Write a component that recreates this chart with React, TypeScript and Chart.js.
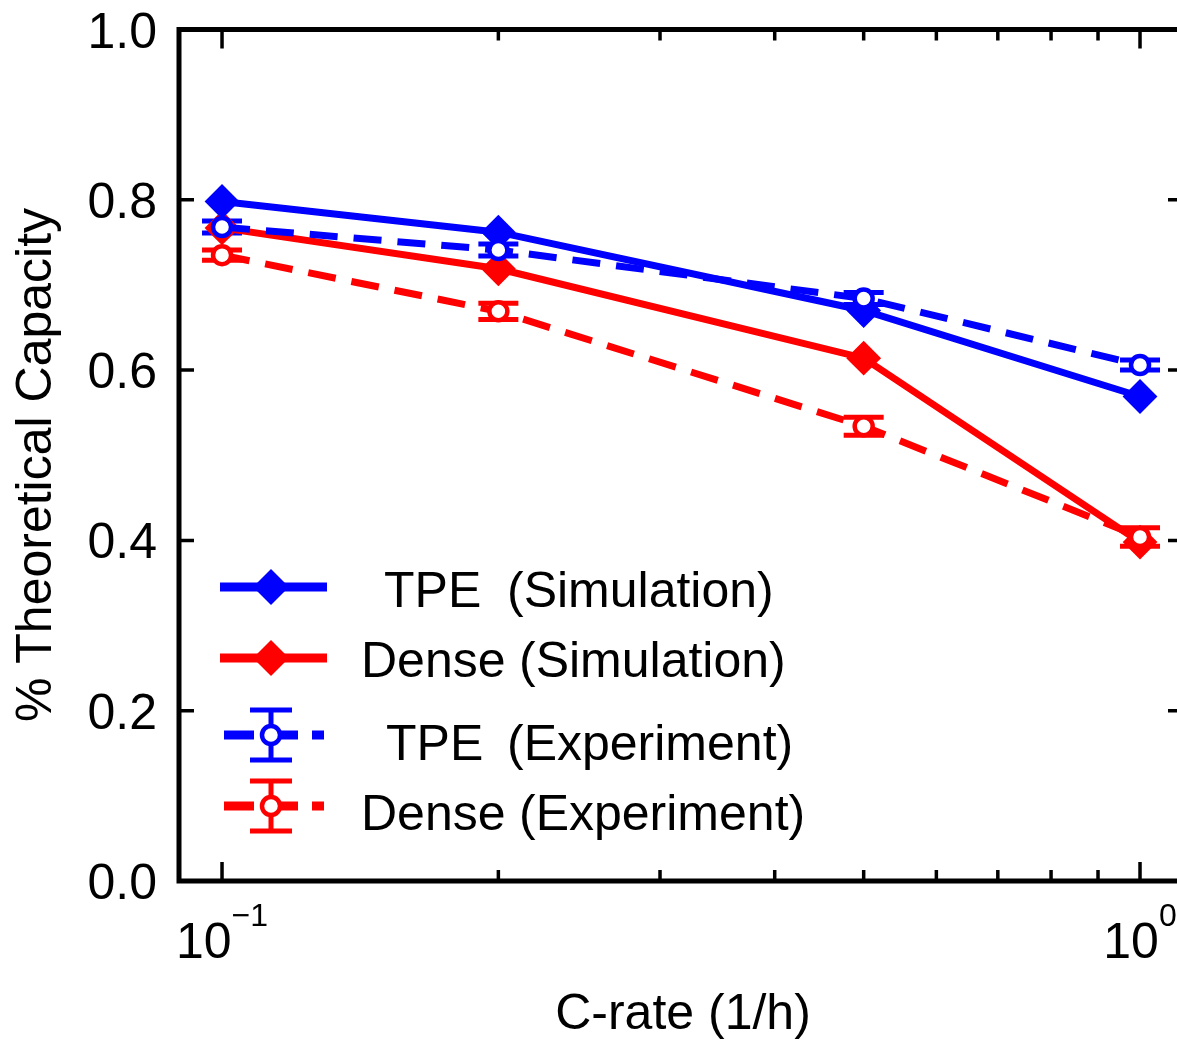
import React, { useEffect, useRef } from "react";
import { Chart, registerables } from "chart.js";

Chart.register(...registerables);

// ---- data ----
const cRate = [0.1, 0.2, 0.5, 1.0];
const tpeSim = [0.798, 0.762, 0.67, 0.569];
const denseSim = [0.767, 0.719, 0.614, 0.398];
const tpeExp = [0.768, 0.741, 0.684, 0.606];
const tpeExpErr = [0.007, 0.007, 0.007, 0.006];
const denseExp = [0.735, 0.669, 0.534, 0.404];
const denseExpErr = [0.006, 0.0095, 0.0105, 0.011];

const seriesNames = ["TPE", "Dense", "TPE", "Dense"];
const seriesKinds = ["(Simulation)", "(Simulation)", "(Experiment)", "(Experiment)"];

const yTicks = [0, 0.2, 0.4, 0.6, 0.8, 1.0];
const yTickLabels = ["0.0", "0.2", "0.4", "0.6", "0.8", "1.0"];
const xMajorTicks = [0.1, 1];
const xMajorBase = ["10", "10"];
const xMajorExp = ["\u22121", "0"];
const xMinorTicks = [0.2, 0.3, 0.4, 0.5, 0.6, 0.7, 0.8, 0.9];

const xTitle = "C-rate (1/h)";
const yTitle = "% Theoretical Capacity";

const BLUE = "#0000ff";
const RED = "#ff0000";
const FONT = '"Liberation Sans", Arial, Helvetica, sans-serif';

function pts(ys: number[]) {
  return cRate.map((x, i) => ({ x, y: ys[i] }));
}

function diamond(ctx: CanvasRenderingContext2D, x: number, y: number, r: number, color: string) {
  ctx.beginPath();
  ctx.moveTo(x - r, y);
  ctx.lineTo(x, y - r);
  ctx.lineTo(x + r, y);
  ctx.lineTo(x, y + r);
  ctx.closePath();
  ctx.fillStyle = color;
  ctx.fill();
}

function errBar(ctx: CanvasRenderingContext2D, x: number, y1: number, y2: number, capHalf: number, lw: number, color: string) {
  ctx.strokeStyle = color;
  ctx.lineWidth = lw;
  ctx.setLineDash([]);
  ctx.beginPath();
  ctx.moveTo(x, y1);
  ctx.lineTo(x, y2);
  ctx.moveTo(x - capHalf, y1);
  ctx.lineTo(x + capHalf, y1);
  ctx.moveTo(x - capHalf, y2);
  ctx.lineTo(x + capHalf, y2);
  ctx.stroke();
}

export default function App() {
  const ref = useRef<HTMLCanvasElement>(null);

  useEffect(() => {
    document.body.style.margin = "0";
    const canvas = ref.current!;

    const framePlugin = {
      id: "frame",
      beforeDatasetsDraw(chart: any) {
        const ctx = chart.ctx as CanvasRenderingContext2D;
        const xs = chart.scales.x;
        const ys = chart.scales.y;
        ctx.save();
        const sets = [
          { v: tpeExp, e: tpeExpErr, c: BLUE },
          { v: denseExp, e: denseExpErr, c: RED },
        ];
        for (const s of sets) {
          cRate.forEach((cx, i) => {
            const px = xs.getPixelForValue(cx);
            errBar(ctx, px, ys.getPixelForValue(s.v[i] + s.e[i]), ys.getPixelForValue(s.v[i] - s.e[i]), 20, 5, s.c);
          });
        }
        ctx.restore();
      },
      afterDraw(chart: any) {
        const ctx = chart.ctx as CanvasRenderingContext2D;
        const { left, right, top, bottom } = chart.chartArea;
        const xs = chart.scales.x;
        const ys = chart.scales.y;
        ctx.save();
        ctx.setLineDash([]);
        ctx.strokeStyle = "#000";
        ctx.fillStyle = "#000";

        // spines
        ctx.lineWidth = 5;
        ctx.lineCap = "square";
        ctx.lineJoin = "miter";
        ctx.beginPath();
        ctx.moveTo(left, bottom);
        ctx.lineTo(left, top);
        ctx.lineTo(right + 20, top);
        ctx.moveTo(left, bottom);
        ctx.lineTo(right + 20, bottom);
        ctx.stroke();

        // ticks
        ctx.lineCap = "butt";
        ctx.lineWidth = 3.5;
        ctx.beginPath();
        for (const v of yTicks) {
          const y = ys.getPixelForValue(v);
          ctx.moveTo(left, y);
          ctx.lineTo(left + 15, y);
          ctx.moveTo(right - 9, y);
          ctx.lineTo(right, y);
        }
        for (const v of xMajorTicks) {
          const x = xs.getPixelForValue(v);
          ctx.moveTo(x, bottom);
          ctx.lineTo(x, bottom - 19);
          ctx.moveTo(x, top);
          ctx.lineTo(x, top + 19);
        }
        for (const v of xMinorTicks) {
          const x = xs.getPixelForValue(v);
          ctx.moveTo(x, bottom);
          ctx.lineTo(x, bottom - 11);
          ctx.moveTo(x, top);
          ctx.lineTo(x, top + 11);
        }
        ctx.stroke();

        // y tick labels
        ctx.font = `50px ${FONT}`;
        ctx.textAlign = "right";
        ctx.textBaseline = "alphabetic";
        yTicks.forEach((v, i) => {
          const y = ys.getPixelForValue(v);
          ctx.fillText(yTickLabels[i], 157, y + 18);
        });

        // x tick labels (10^n)
        ctx.textAlign = "left";
        xMajorTicks.forEach((v, i) => {
          const x = xs.getPixelForValue(v);
          ctx.font = `50px ${FONT}`;
          const wb = ctx.measureText(xMajorBase[i]).width;
          ctx.font = `32px ${FONT}`;
          const we = ctx.measureText(xMajorExp[i]).width;
          const x0 = x - (wb + we) / 2;
          ctx.font = `50px ${FONT}`;
          ctx.fillText(xMajorBase[i], x0, 958);
          ctx.font = `32px ${FONT}`;
          ctx.fillText(xMajorExp[i], x0 + wb, 926);
        });

        // axis titles
        ctx.font = `50px ${FONT}`;
        ctx.textAlign = "center";
        ctx.fillText(xTitle, 683, 1029);
        ctx.save();
        ctx.translate(51, 465);
        ctx.rotate(-Math.PI / 2);
        ctx.fillText(yTitle, 0, 0);
        ctx.restore();

        // legend
        const colors = [BLUE, RED, BLUE, RED];
        const rowY = [587, 658, 735, 806];
        const textY = [607, 677, 760, 830];
        const nameX = [384, 361, 386, 361];
        const kindX = [507, 519, 507, 519];
        const mx = 271;
        for (let i = 0; i < 4; i++) {
          const c = colors[i];
          const y = rowY[i];
          ctx.strokeStyle = c;
          ctx.lineWidth = 9;
          ctx.lineCap = "butt";
          if (i < 2) {
            ctx.setLineDash([]);
            ctx.beginPath();
            ctx.moveTo(220, y);
            ctx.lineTo(327, y);
            ctx.stroke();
            diamond(ctx, mx, y, 18, c);
          } else {
            ctx.setLineDash([30, 14]);
            ctx.beginPath();
            ctx.moveTo(224, y);
            ctx.lineTo(324, y);
            ctx.stroke();
            ctx.setLineDash([]);
            errBar(ctx, mx, y - 25, y + 25, 21, 5, c);
            ctx.beginPath();
            ctx.arc(mx, y, 9, 0, Math.PI * 2);
            ctx.fillStyle = "#fff";
            ctx.fill();
            ctx.lineWidth = 4.5;
            ctx.strokeStyle = c;
            ctx.stroke();
          }
          ctx.fillStyle = "#000";
          ctx.font = `50px ${FONT}`;
          ctx.textAlign = "left";
          ctx.fillText(seriesNames[i], nameX[i], textY[i]);
          ctx.fillText(seriesKinds[i], kindX[i], textY[i]);
        }
        ctx.restore();
      },
    };

    const chart = new Chart(canvas, {
      type: "line",
      data: {
        datasets: [
          {
            label: `${seriesNames[0]} ${seriesKinds[0]}`,
            data: pts(tpeSim),
            borderColor: BLUE,
            backgroundColor: BLUE,
            borderWidth: 7,
            pointStyle: "rectRot",
            pointRadius: 16,
            pointBorderWidth: 2,
            pointBackgroundColor: BLUE,
            pointBorderColor: BLUE,
            order: 3,
          },
          {
            label: `${seriesNames[1]} ${seriesKinds[1]}`,
            data: pts(denseSim),
            borderColor: RED,
            backgroundColor: RED,
            borderWidth: 7,
            pointStyle: "rectRot",
            pointRadius: 16,
            pointBorderWidth: 2,
            pointBackgroundColor: RED,
            pointBorderColor: RED,
            order: 4,
          },
          {
            label: `${seriesNames[2]} ${seriesKinds[2]}`,
            data: pts(tpeExp),
            borderColor: BLUE,
            backgroundColor: "#ffffff",
            borderWidth: 7,
            borderDash: [28, 16],
            pointStyle: "circle",
            pointRadius: 9,
            pointBorderWidth: 4.5,
            pointBackgroundColor: "#ffffff",
            pointBorderColor: BLUE,
            order: 2,
          },
          {
            label: `${seriesNames[3]} ${seriesKinds[3]}`,
            data: pts(denseExp),
            borderColor: RED,
            backgroundColor: "#ffffff",
            borderWidth: 7,
            borderDash: [28, 16],
            pointStyle: "circle",
            pointRadius: 9,
            pointBorderWidth: 4.5,
            pointBackgroundColor: "#ffffff",
            pointBorderColor: RED,
            order: 1,
          },
        ],
      },
      options: {
        responsive: false,
        animation: false,
        devicePixelRatio: 1,
        layout: { autoPadding: false, padding: { top: 29.5, left: 0, right: 0, bottom: 0 } },
        plugins: {
          legend: { display: false },
          tooltip: { enabled: false },
        },
        events: [],
        scales: {
          x: {
            type: "logarithmic",
            min: 0.08977,
            max: 1.0972,
            ticks: { display: false },
            grid: { display: false },
            border: { display: false },
            afterFit: (s: any) => {
              s.height = 161;
            },
          },
          y: {
            type: "linear",
            min: 0,
            max: 1,
            ticks: { display: false },
            grid: { display: false },
            border: { display: false },
            afterFit: (s: any) => {
              s.width = 179;
            },
          },
        },
      },
      plugins: [framePlugin],
    } as any);

    return () => chart.destroy();
  }, []);

  return (
    <div style={{ width: 1177, height: 1042, overflow: "hidden", background: "#fff" }}>
      <canvas ref={ref} width={1177} height={1042} style={{ display: "block" }} />
    </div>
  );
}
